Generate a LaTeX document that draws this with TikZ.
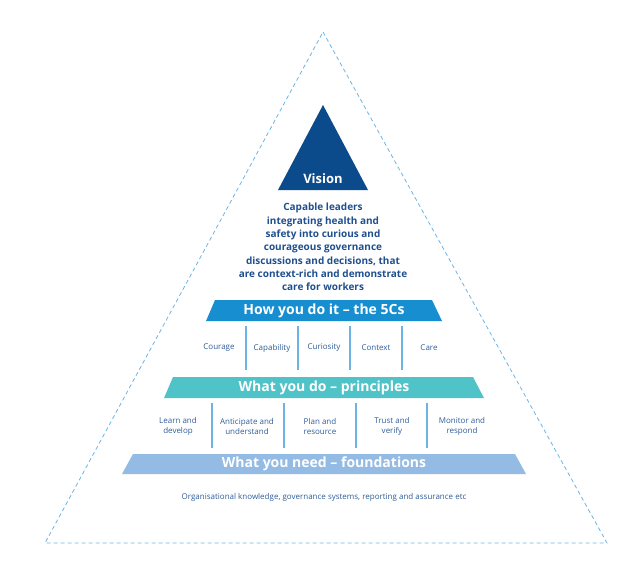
\documentclass[tikz,border=0pt]{standalone}
\usepackage{fontspec}
\setmainfont{Open Sans}
\definecolor{dblue}{HTML}{0B4A8B}
\definecolor{txt}{HTML}{1F4F8E}
\definecolor{lbl}{HTML}{2F5C99}
\definecolor{b1}{HTML}{168ED0}
\definecolor{b2}{HTML}{50C3C9}
\definecolor{b3}{HTML}{94BBE3}
\definecolor{sep}{HTML}{6CB4E4}
\begin{document}
\begin{tikzpicture}[x=1pt,y=-1pt,
  band/.style={white,font=\fontsize{14}{16}\selectfont\bfseries},
  lab/.style={text=lbl,font=\fontsize{8}{10}\selectfont,align=center},
  sepl/.style={sep,line width=1.3pt}]
\useasboundingbox (0,0) rectangle (642,562);
\draw[sep,dashed,line width=0.8pt,dash pattern=on 4pt off 3pt] (323,32) -- (607,543) -- (45,543) -- cycle;
\fill[dblue] (323,105) -- (368,190) -- (278,190) -- cycle;
\node[white,font=\fontsize{13}{15}\selectfont\bfseries] (vis) at (323,179) {Vision};
\node[text=txt,font=\fontsize{10}{13.3}\selectfont\bfseries,align=center] (body) at (323,247) {Capable leaders\\integrating health and\\safety into curious and\\courageous governance\\discussions and decisions, that\\are context-rich and demonstrate\\care for workers};
\fill[b1] (215,300) -- (432,300) -- (442,321) -- (206,321) -- cycle;
\node[band] (t1) at (324,310.5) {How you do it – the 5Cs};
\foreach \x in {246,298,350,402} \draw[sepl] (\x,326) -- (\x,370);
\node[lab] (c1) at (219,348) {Courage};
\node[lab] (c2) at (272,348) {Capability};
\node[lab] (c3) at (324,348) {Curiosity};
\node[lab] (c4) at (376,348) {Context};
\node[lab] (c5) at (429,348) {Care};
\fill[b2] (173,377) -- (473,377) -- (484,398) -- (164,398) -- cycle;
\node[band] (t2) at (324,387.5) {What you do – principles};
\foreach \x in {212,284,356,427} \draw[sepl] (\x,403) -- (\x,448);
\node[lab] (p1) at (178,426) {Learn and\\develop};
\node[lab] (p2) at (247,426) {Anticipate and\\understand};
\node[lab] (p3) at (320,426) {Plan and\\resource};
\node[lab] (p4) at (392,426) {Trust and\\verify};
\node[lab] (p5) at (462,426) {Monitor and\\respond};
\fill[b3] (133,454) -- (515,454) -- (526,474) -- (122,474) -- cycle;
\node[band] (t3) at (324,464) {What you need – foundations};
\node[lab] (f) at (324,497) {Organisational knowledge, governance systems, reporting and assurance etc};
\end{tikzpicture}
\end{document}
